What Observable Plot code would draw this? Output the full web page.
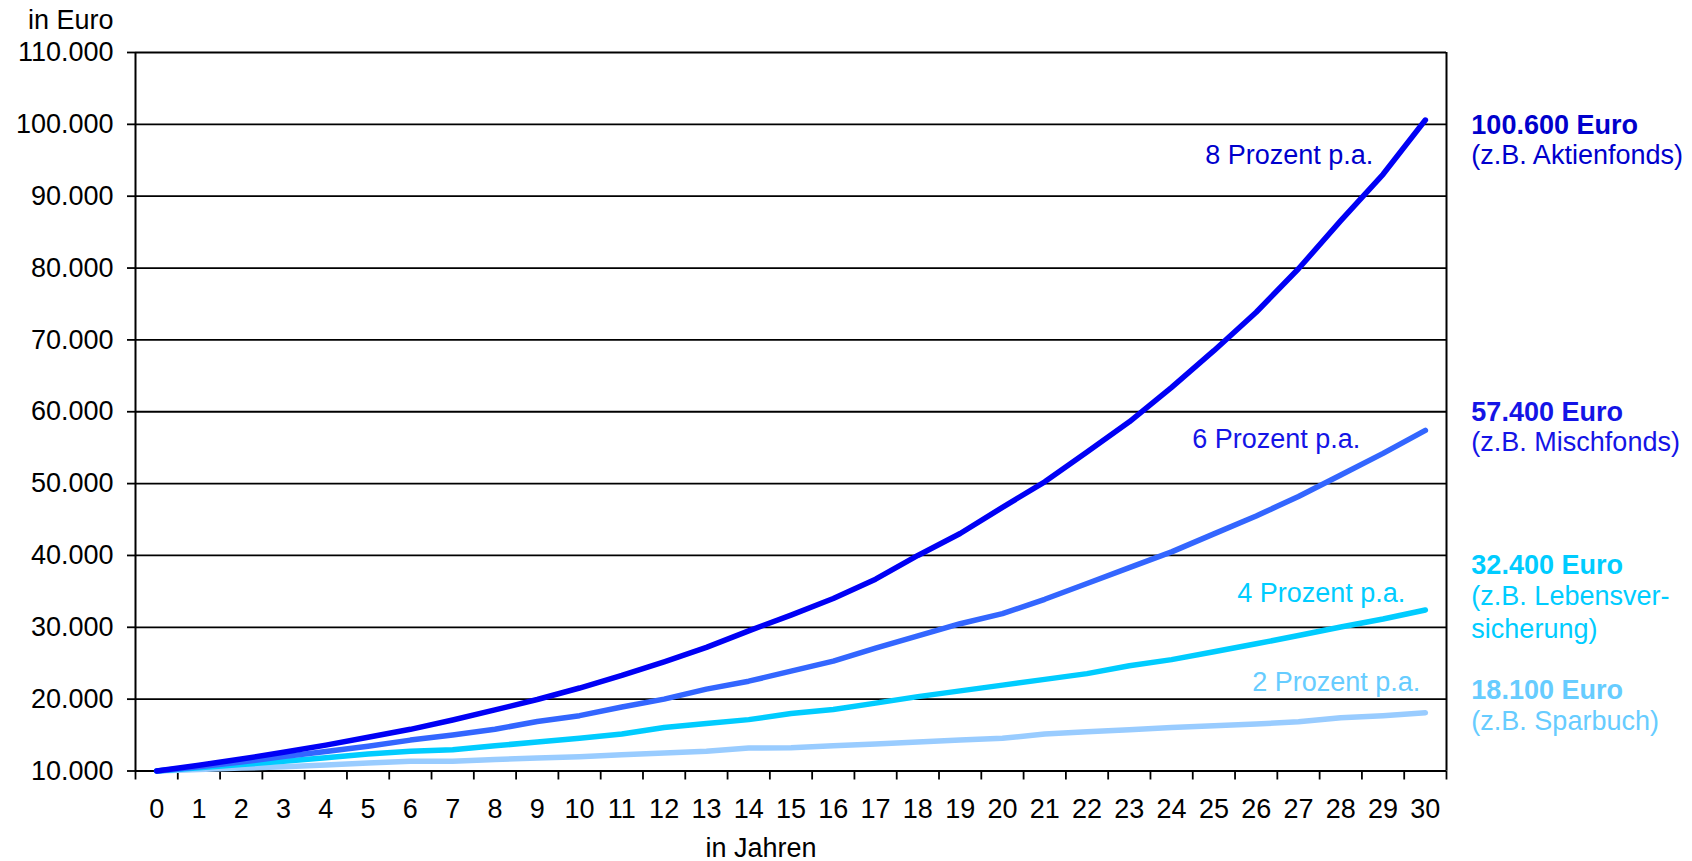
<!DOCTYPE html>
<html>
<head>
<meta charset="utf-8">
<script src="https://cdn.jsdelivr.net/npm/d3@7"></script>
<script src="https://cdn.jsdelivr.net/npm/@observablehq/plot@0.6"></script>
<style>
  html, body { margin: 0; padding: 0; background: #fff; }
  #chart svg { display: block; }
</style>
</head>
<body>
<div id="chart"></div>
<script>
// ---- data ----
const years = [0,1,2,3,4,5,6,7,8,9,10,11,12,13,14,15,16,17,18,19,20,21,22,23,24,25,26,27,28,29,30];
const p8 = [10000,10800,11660,12600,13600,14690,15800,17100,18500,19950,21550,23300,25200,27200,29500,31700,34000,36700,40000,43050,46700,50250,54400,58600,63400,68500,73850,79900,86600,93050,100600];
const p6 = [10000,10600,11250,12000,12700,13450,14300,15000,15800,16900,17700,18900,20000,21400,22500,23900,25300,27100,28800,30500,31900,33900,36100,38300,40500,43000,45500,48200,51200,54200,57400];
const p4 = [10000,10450,10900,11350,11850,12350,12750,12950,13500,14050,14550,15150,16050,16600,17150,18000,18550,19450,20350,21150,21950,22750,23550,24650,25500,26600,27700,28850,30050,31150,32400];
const p2 = [10000,10200,10400,10600,10850,11100,11350,11350,11600,11800,12000,12250,12500,12750,13200,13250,13500,13750,14050,14300,14550,15150,15450,15750,16050,16300,16550,16850,17400,17700,18100];
const seriesNames = ["2 Prozent p.a.", "4 Prozent p.a.", "6 Prozent p.a.", "8 Prozent p.a."];
const seriesValues = [p2, p4, p6, p8];
const endLabels = ["18.100 Euro", "32.400 Euro", "57.400 Euro", "100.600 Euro"];
const endNotes = ["(z.B. Sparbuch)", "(z.B. Lebensver-\nsicherung)", "(z.B. Mischfonds)", "(z.B. Aktienfonds)"];
const yTicks = [10000,20000,30000,40000,50000,60000,70000,80000,90000,100000,110000];

// ---- styles ----
const lineColors = ["#99ccff", "#00ccff", "#3366ff", "#0000f5"];
const textColors = ["#66ccff", "#00ccff", "#1414e6", "#0000cc"];
const FONT = "'Liberation Sans', Arial, Helvetica, sans-serif";
const FS = 27;

const table = [];
seriesNames.forEach((s, k) => years.forEach((yr, i) => table.push({series: s, year: yr, value: seriesValues[k][i]})));

const de = d3.formatLocale({decimal: ",", thousands: ".", grouping: [3], currency: ["", " €"]});
const fmt = de.format(",d");

const boundaries = years.concat([31]).map(v => v - 0.5);

// label anchors (in data units) and pixel offsets
const inline = [
  {k: 0, y: 22320, dx: -5},
  {k: 1, y: 34700, dx: -20},
  {k: 2, y: 56140, dx: -65},
  {k: 3, y: 95670, dx: -52}
];
const endPos = [
  {k: 0, yb: 21200, yn: 16750},
  {k: 1, yb: 38600, yn: 34150},
  {k: 2, yb: 59900, yn: 55580},
  {k: 3, yb: 99840, yn: 95530}
];

const inlineMarks = inline.map(d => Plot.text([d], {
  x: () => 30, y: "y", dx: d.dx, text: () => seriesNames[d.k], fill: textColors[d.k],
  textAnchor: "end", fontSize: FS
}));

const chart = Plot.plot({
  width: 1692,
  height: 861,
  marginLeft: 135,
  marginRight: 246,
  marginTop: 52,
  marginBottom: 90.5,
  style: {fontFamily: FONT, fontSize: FS + "px", color: "#000", background: "#fff", overflow: "visible"},
  x: {type: "linear", domain: [-0.5, 30.5]},
  y: {domain: [10000, 110000]},
  color: {domain: seriesNames, range: lineColors},
  marks: [
    Plot.ruleY(yTicks, {stroke: "#000", strokeWidth: 1.8}),
    Plot.ruleX([30.5], {stroke: "#000", strokeWidth: 2}),
    Plot.ruleX([-0.5], {stroke: "#000", strokeWidth: 2}),
    Plot.ruleY([10000], {stroke: "#000", strokeWidth: 2.2}),
    Plot.axisY({ticks: yTicks, tickFormat: fmt, tickSize: 8, tickPadding: 14, stroke: "#000", strokeWidth: 1.8, label: null, fontSize: FS, fill: "#000"}),
    Plot.axisX({ticks: boundaries, tickFormat: () => "", tickSize: 9, stroke: "#000", strokeWidth: 1.8, label: null}),
    Plot.axisX({ticks: years, tickFormat: d => String(d), tickSize: 0, tickPadding: 28, label: null, fontSize: FS, fill: "#000"}),
    Plot.line(table, {x: "year", y: "value", z: "series", stroke: "series", strokeWidth: 5.5, strokeLinecap: "round", strokeLinejoin: "round"}),
    ...inlineMarks,
    Plot.text(endPos, {x: () => 30, y: "yb", dx: 46, text: d => endLabels[d.k], fill: d => textColors[d.k], textAnchor: "start", fontWeight: "bold", fontSize: FS}),
    Plot.text(endPos, {x: () => 30, y: "yn", dx: 46, text: d => endNotes[d.k], fill: d => textColors[d.k], textAnchor: "start", lineAnchor: "top", lineHeight: 1.22, dy: -16, fontSize: FS}),
    Plot.text(["in Euro"], {frameAnchor: "top-left", dx: -22, dy: -32, textAnchor: "end", lineAnchor: "middle", fontSize: FS, fill: "#000"}),
    Plot.text(["in Jahren"], {frameAnchor: "bottom", dx: -30, dy: 77.5, lineAnchor: "middle", fontSize: FS, fill: "#000"})
  ]
});
document.getElementById("chart").appendChild(chart);
</script>
</body>
</html>
